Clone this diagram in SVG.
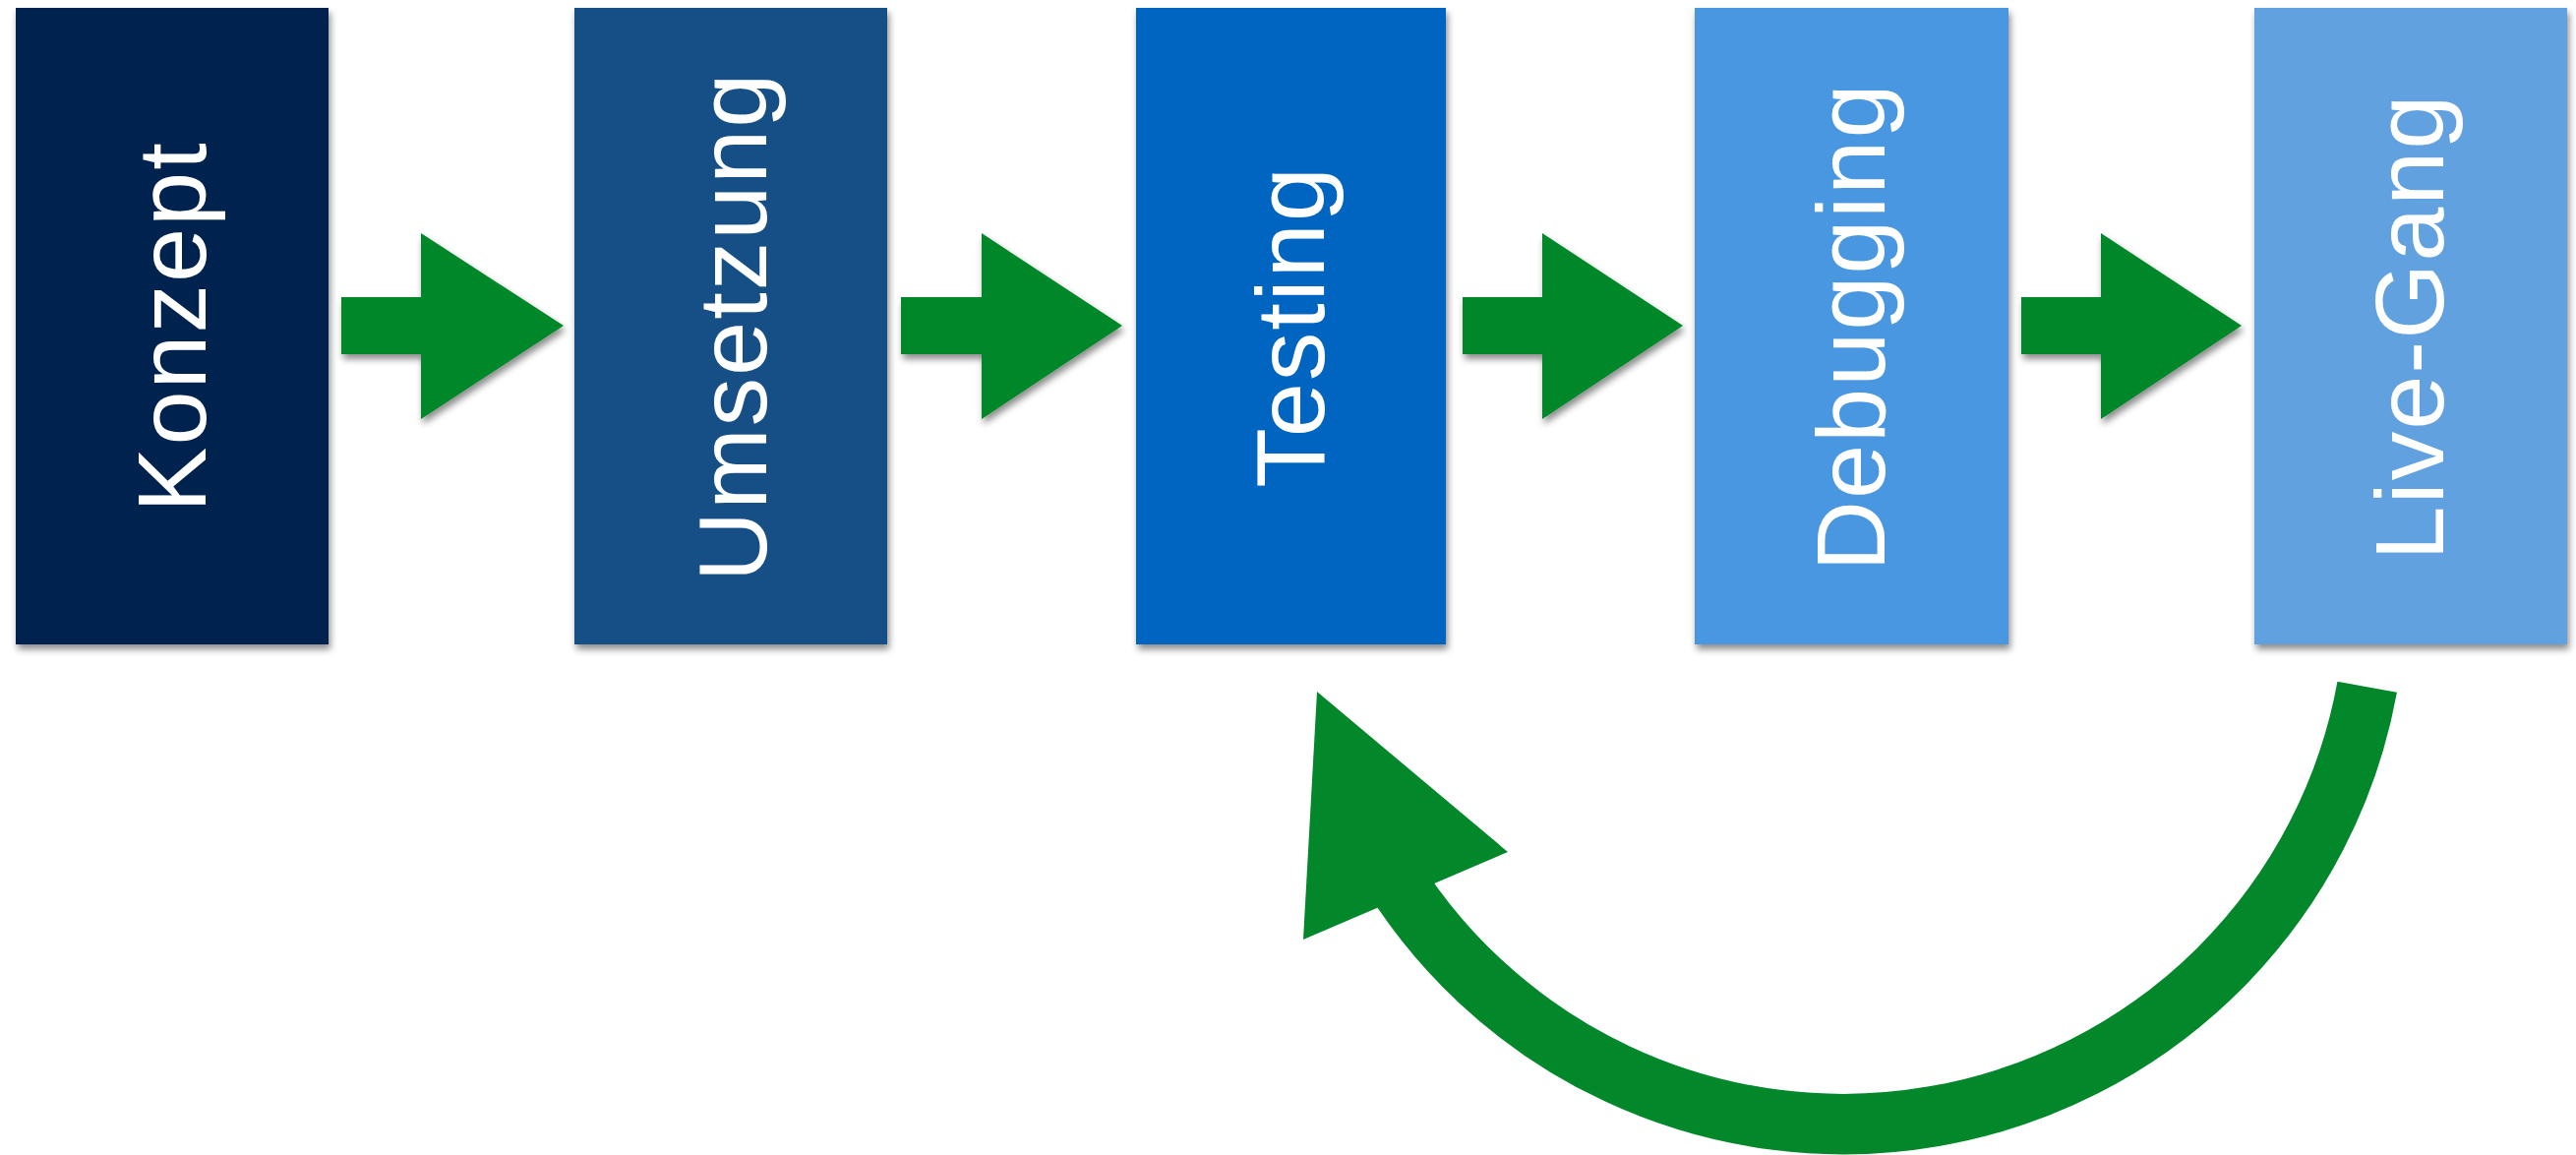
<svg xmlns="http://www.w3.org/2000/svg" width="2619" height="1174" viewBox="0 0 2619 1174">
<defs>
<filter id="sh" x="-10%" y="-10%" width="130%" height="130%">
<feDropShadow dx="2" dy="5" stdDeviation="3.5" flood-color="#000" flood-opacity="0.45"/>
</filter>
</defs>
<style>
.box{filter:url(#sh)}
.lbl{font-family:"Liberation Sans",Arial,sans-serif;font-size:99px;fill:#fff;text-anchor:middle;letter-spacing:2px}
.g{fill:#03872b}
</style>
<rect width="2619" height="1174" fill="#fff"/>
<g id="konzept"><rect class="box" x="16" y="8" width="318" height="647" fill="#00234f"/><text class="lbl" transform="translate(209,332) rotate(-90)">Konzept</text></g>
<g id="umsetzung"><rect class="box" x="584" y="8" width="318" height="647" fill="#194f86"/><text class="lbl" transform="translate(779,332) rotate(-90)">Umsetzung</text></g>
<g id="testing"><rect class="box" x="1155" y="8" width="315" height="647" fill="#0565c0"/><text class="lbl" transform="translate(1346,332) rotate(-90)">Testing</text></g>
<g id="debugging"><rect class="box" x="1723" y="8" width="319" height="647" fill="#4a97e0"/><text class="lbl" transform="translate(1916,332) rotate(-90)">Debugging</text></g>
<g id="livegang"><rect class="box" x="2292" y="8" width="318" height="647" fill="#62a1e0"/><text class="lbl" transform="translate(2484,332) rotate(-90)">Live-Gang</text></g>
<g id="connectors">
<path class="g box" d="M347,302 H428 V237 L573,331 L428,426 V360 H347 Z"/>
<path class="g box" d="M916,302 H998 V237 L1141,331 L998,426 V360 H916 Z"/>
<path class="g box" d="M1487,302 H1568 V237 L1711,331 L1568,426 V360 H1487 Z"/>
<path class="g box" d="M2055,302 H2136 V237 L2279,331 L2136,426 V360 H2055 Z"/>
<path d="M2406.7,698.3 A541.5,541.5 0 0 1 1405,871.8" fill="none" stroke="#03872b" stroke-width="61.5"/>
<polygon class="g" points="1339,703 1533,866 1325,955"/>
</g>
</svg>
